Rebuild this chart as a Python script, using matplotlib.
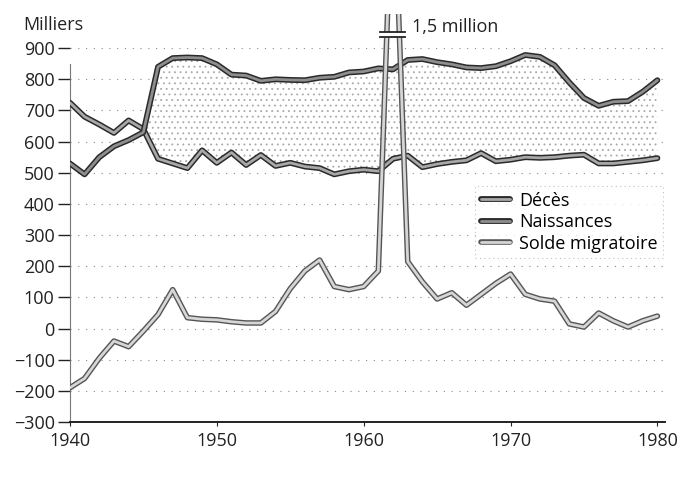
import matplotlib
matplotlib.use("Agg")
import matplotlib.pyplot as plt
import matplotlib.patheffects as pe
import numpy as np

plt.rcParams['font.family'] = ['Open Sans', 'DejaVu Sans']
plt.rcParams['hatch.linewidth'] = 0.6

years = list(range(1940, 1981))
naissances = [530, 495, 550, 585, 605, 630, 840, 868, 870, 868,
              848, 815, 812, 795, 800, 798, 797, 805, 808, 822,
              825, 835, 832, 862, 865, 855, 848, 838, 836, 842,
              858, 878, 872, 845, 790, 740, 715, 728, 730, 760,
              797]
deces = [725, 680, 655, 628, 668, 640, 545, 530, 515, 572,
         532, 565, 525, 557, 522, 532, 520, 515, 495, 505,
         510, 505, 545, 555, 518, 528, 535, 540, 563, 537,
         542, 550, 548, 550, 555, 558, 530, 530, 535, 540,
         547]
solde = [-190, -160, -95, -40, -58, -8, 45, 125, 35, 30,
         28, 22, 18, 18, 55, 128, 185, 220, 135, 125,
         135, 185, 1500, 215, 150, 95, 115, 75, 110, 145,
         175, 110, 95, 88, 15, 5, 50, 25, 5, 25,
         40]
yticks = list(range(-300, 901, 100))
xticks = [1940, 1950, 1960, 1970, 1980]

fig = plt.figure(figsize=(6.99, 4.78), dpi=100)
ax = fig.add_axes([0.1, 0.117, 0.851, 0.854])

yr = np.array(years)
nb = np.array(naissances)
dc = np.array(deces)

# stippled band between births and deaths
ax.fill_between(yr, dc, nb, where=nb >= dc, interpolate=True,
                facecolor='white', edgecolor='#a8a8a8', hatch='...',
                linewidth=0, zorder=1)

# dotted grid
for v in yticks[1:]:
    ax.axhline(v, color='#8a8a8a', lw=0.8, ls=(0, (1, 6)), zorder=0.5)

def styled(y, inner, outer, lw_in, lw_out, label):
    ln, = ax.plot(yr, y, color=inner, lw=lw_in, label=label, zorder=3,
                  solid_capstyle='round', solid_joinstyle='round')
    ln.set_path_effects([pe.Stroke(linewidth=lw_out, foreground=outer),
                         pe.Normal()])
    return ln

styled(dc, '#a8a8a8', '#2a2a2a', 2.0, 4.2, 'Décès')
styled(nb, '#8e8e8e', '#2a2a2a', 2.0, 4.2, 'Naissances')
styled(solde, '#d6d6d6', '#555555', 2.0, 4.0, 'Solde migratoire')

# break marks on the 1962 spike
ax.plot([1961.1, 1962.8], [943, 943], color='white', lw=4, zorder=4,
        solid_capstyle='butt')
ax.plot([1961.1, 1962.8], [951, 951], color='#222222', lw=1.3, zorder=5)
ax.plot([1961.1, 1962.8], [935, 935], color='#222222', lw=1.3, zorder=5)
ax.text(1963.3, 967, '1,5 million', fontsize=13, va='center', ha='left',
        color='#222222')

ax.set_xlim(1940, 1980.5)
ax.set_ylim(-300, 1010)
ax.set_yticks(yticks)
ax.set_yticklabels([str(v).replace('-', '\u2212') for v in yticks])
ax.set_xticks(xticks)
ax.set_xticklabels([str(v) for v in xticks])
ax.tick_params(axis='y', length=9, width=1.0, pad=2, labelsize=13,
               colors='#222222', direction='out')
ax.tick_params(axis='x', length=3, width=0.8, pad=4, labelsize=13,
               colors='#222222', direction='out')

for s in ['top', 'right']:
    ax.spines[s].set_visible(False)
ax.spines['left'].set_color('#777777')
ax.spines['left'].set_linewidth(0.8)
ax.spines['left'].set_bounds(-300, 850)
ax.spines['bottom'].set_color('#222222')
ax.spines['bottom'].set_linewidth(1.4)

fig.text(23 / 699, 1 - 25 / 478, 'Milliers', fontsize=13, va='center',
         ha='left', color='#222222')

leg = ax.legend(loc='upper right', bbox_to_anchor=(1.012, 0.6),
                fontsize=13, frameon=True, handlelength=1.6,
                handletextpad=0.5, labelspacing=0.2, borderpad=0.3,
                fancybox=False)
leg.get_frame().set_edgecolor('#b0b0b0')
leg.get_frame().set_linestyle((0, (1, 3)))
leg.get_frame().set_linewidth(0.8)
leg.set_zorder(6)

fig.savefig('out.png', dpi=100)
